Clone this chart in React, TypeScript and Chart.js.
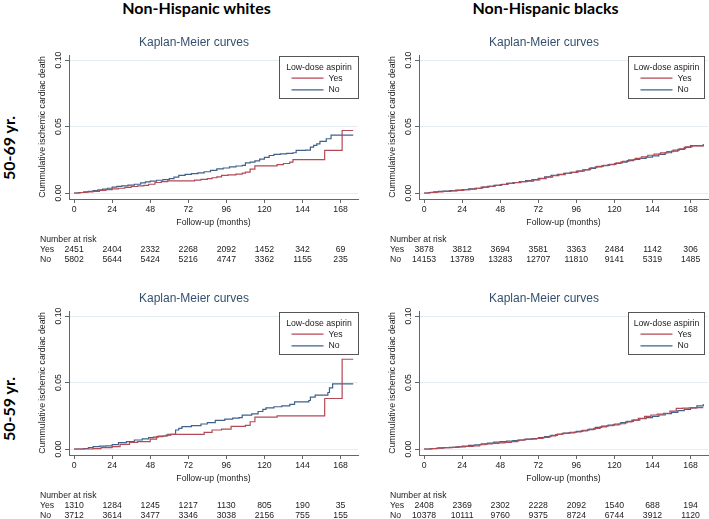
import React, { useEffect, useRef } from 'react';
import { Chart, registerables } from 'chart.js';

Chart.register(...registerables);

// ---------- text ----------
const colHeaders = ['Non-Hispanic whites', 'Non-Hispanic blacks'];
const rowHeaders = ['50-69 yr.', '50-59 yr.'];
const panelTitle = 'Kaplan-Meier curves';
const legendTitle = 'Low-dose aspirin';
const seriesLabels = ['Yes', 'No'];
const xTitle = 'Follow-up (months)';
const yTitle = 'Cummulative ischemic cardiac death';
const riskTitle = 'Number at risk';

// ---------- ticks ----------
const xTicks = [0, 24, 48, 72, 96, 120, 144, 168];
const yTicks = [0, 0.05, 0.1];

// ---------- Non-Hispanic whites, 50-69 yr. ----------
const w69YesT = [0, 4, 8, 12, 16, 20, 24, 28, 32, 36, 40, 44, 47, 51, 55, 59, 76, 80, 84, 87, 90, 93, 97, 102, 106, 108, 111, 114, 128, 132, 136, 138, 158, 169, 176];
const w69YesV = [0, 0.0004, 0.0008, 0.0013, 0.0019, 0.0025, 0.0031, 0.0036, 0.0043, 0.0049, 0.0053, 0.0058, 0.0066, 0.0079, 0.0086, 0.0092, 0.0097, 0.0102, 0.0108, 0.0115, 0.0122, 0.0132, 0.0137, 0.0142, 0.015, 0.0157, 0.018, 0.0204, 0.0214, 0.0222, 0.0232, 0.0251, 0.032, 0.047, 0.047];
const w69NoT = [0, 3, 6, 9, 12, 15, 18, 21, 24, 27, 30, 34, 38, 42, 45, 48, 52, 56, 60, 63, 66, 70, 74, 78, 82, 86, 90, 94, 98, 102, 106, 108, 111, 114, 117, 120, 123, 126, 130, 134, 138, 140, 146, 149, 151, 153, 155, 159, 162, 176];
const w69NoV = [0, 0.0004, 0.0008, 0.0012, 0.0018, 0.0024, 0.003, 0.0036, 0.0045, 0.005, 0.0054, 0.006, 0.0066, 0.0076, 0.0084, 0.009, 0.0096, 0.0101, 0.0108, 0.012, 0.0132, 0.014, 0.0146, 0.0152, 0.016, 0.0171, 0.0182, 0.0188, 0.0196, 0.0203, 0.0208, 0.0226, 0.0232, 0.0242, 0.0255, 0.0268, 0.0282, 0.029, 0.0295, 0.0298, 0.0303, 0.032, 0.0322, 0.0345, 0.0358, 0.037, 0.0388, 0.0408, 0.0436, 0.0436];
const w69RiskYes = [2451, 2404, 2332, 2268, 2092, 1452, 342, 69];
const w69RiskNo = [5802, 5644, 5424, 5216, 4747, 3362, 1155, 235];

// ---------- Non-Hispanic blacks, 50-69 yr. ----------
const b69YesT = [0, 4, 8, 12, 17, 21, 25, 29, 33, 37, 41, 45, 49, 53, 57, 61, 65, 69, 73, 77, 81, 85, 89, 93, 97, 101, 105, 109, 113, 117, 121, 125, 129, 133, 137, 141, 145, 149, 153, 157, 161, 165, 169, 176];
const b69YesV = [0, 0.0005, 0.0009, 0.0012, 0.0016, 0.002, 0.0026, 0.003, 0.0036, 0.0044, 0.0051, 0.0058, 0.0065, 0.0072, 0.0078, 0.0085, 0.009, 0.0098, 0.0108, 0.012, 0.0131, 0.0139, 0.0147, 0.0155, 0.0164, 0.0176, 0.019, 0.0201, 0.0208, 0.0216, 0.0226, 0.0238, 0.025, 0.026, 0.0272, 0.0284, 0.0293, 0.0302, 0.0312, 0.0322, 0.0333, 0.0347, 0.0355, 0.0358];
const b69NoT = [0, 3, 6, 9, 12, 16, 20, 24, 28, 32, 36, 40, 44, 48, 52, 56, 60, 64, 68, 72, 76, 80, 84, 88, 92, 96, 100, 104, 108, 112, 116, 120, 124, 128, 132, 136, 140, 144, 148, 152, 156, 160, 164, 168, 176];
const b69NoV = [0, 0.0004, 0.0008, 0.0012, 0.0015, 0.0018, 0.0022, 0.0026, 0.0031, 0.0036, 0.0044, 0.005, 0.0058, 0.0064, 0.0072, 0.0079, 0.0086, 0.0093, 0.0101, 0.011, 0.0122, 0.0132, 0.014, 0.0148, 0.0156, 0.0164, 0.0174, 0.0186, 0.0196, 0.0205, 0.0213, 0.0222, 0.0233, 0.0243, 0.0252, 0.0261, 0.027, 0.0279, 0.0291, 0.0303, 0.0315, 0.0328, 0.0343, 0.0356, 0.0368];
const b69RiskYes = [3878, 3812, 3694, 3581, 3363, 2484, 1142, 306];
const b69RiskNo = [14153, 13789, 13283, 12707, 11810, 9141, 5319, 1485];

// ---------- Non-Hispanic whites, 50-59 yr. ----------
const w59YesT = [0, 12, 17, 24, 29, 35, 40, 48, 52, 56, 59, 82, 87, 93, 99, 108, 111, 114, 128, 158, 169, 176];
const w59YesV = [0, 0.0003, 0.001, 0.0018, 0.0035, 0.005, 0.0055, 0.0075, 0.0093, 0.0098, 0.011, 0.0125, 0.0143, 0.015, 0.017, 0.0178, 0.0205, 0.024, 0.025, 0.038, 0.0675, 0.0675];
const w59NoT = [0, 6, 9, 12, 16, 20, 24, 28, 33, 38, 43, 47, 50, 53, 58, 61, 64, 66, 68, 74, 80, 84, 89, 95, 100, 104, 106, 112, 116, 119, 121, 126, 131, 136, 139, 148, 149, 152, 160, 161, 163, 176];
const w59NoV = [0, 0.0004, 0.001, 0.0018, 0.0021, 0.0024, 0.0033, 0.0048, 0.0055, 0.0068, 0.0076, 0.0085, 0.009, 0.0098, 0.0104, 0.011, 0.0143, 0.0155, 0.0168, 0.0176, 0.0188, 0.0198, 0.0215, 0.0225, 0.0232, 0.0236, 0.0255, 0.0265, 0.0282, 0.0298, 0.031, 0.0318, 0.0325, 0.0335, 0.0355, 0.0365, 0.039, 0.0405, 0.0425, 0.046, 0.049, 0.049];
const w59RiskYes = [1310, 1284, 1245, 1217, 1130, 805, 190, 35];
const w59RiskNo = [3712, 3614, 3477, 3346, 3038, 2156, 755, 155];

// ---------- Non-Hispanic blacks, 50-59 yr. ----------
const b59YesT = [0, 5, 9, 13, 18, 22, 26, 31, 35, 39, 43, 47, 51, 55, 59, 63, 67, 71, 75, 79, 83, 87, 91, 95, 99, 103, 107, 111, 115, 119, 123, 127, 131, 135, 139, 143, 147, 151, 155, 159, 163, 167, 171, 176];
const b59YesV = [0, 0.0004, 0.0008, 0.0011, 0.0013, 0.0016, 0.0019, 0.0024, 0.0032, 0.0039, 0.0043, 0.0046, 0.0049, 0.0056, 0.0067, 0.0072, 0.0075, 0.0079, 0.0087, 0.0098, 0.0109, 0.0117, 0.0122, 0.0128, 0.0136, 0.0146, 0.0155, 0.0166, 0.0175, 0.0182, 0.019, 0.0204, 0.0218, 0.0231, 0.0245, 0.0256, 0.0262, 0.0268, 0.0285, 0.0305, 0.0307, 0.031, 0.0312, 0.0312];
const b59NoT = [0, 4, 8, 12, 16, 20, 24, 28, 32, 36, 40, 44, 48, 52, 56, 60, 64, 68, 72, 76, 80, 84, 88, 92, 96, 100, 104, 108, 112, 116, 120, 124, 128, 132, 136, 140, 144, 148, 152, 156, 160, 164, 168, 172, 176];
const b59NoV = [0, 0.0003, 0.0007, 0.001, 0.0013, 0.0017, 0.0022, 0.0027, 0.0032, 0.0039, 0.0045, 0.0052, 0.0056, 0.006, 0.0063, 0.0068, 0.0074, 0.0079, 0.0085, 0.0093, 0.0103, 0.0113, 0.012, 0.0126, 0.0133, 0.0141, 0.015, 0.0163, 0.0172, 0.018, 0.0188, 0.0198, 0.0208, 0.0218, 0.0228, 0.0236, 0.0245, 0.0256, 0.0266, 0.0276, 0.0288, 0.0298, 0.031, 0.0325, 0.0338];
const b59RiskYes = [2408, 2369, 2302, 2228, 2092, 1540, 688, 194];
const b59RiskNo = [10378, 10111, 9760, 9375, 8724, 6744, 3912, 1120];

// ---------- style ----------
const RED = '#b34a55';
const BLUE = '#40618a';
const SANS = '"Liberation Sans", Arial, sans-serif';
const SMALL = 8.7;
const CANVAS_W = 330;
const CANVAS_H = 240;
const Y_AXIS_W = 39;
const TITLE_H = 25;
const X_AXIS_H = 71;

type PanelProps = {
  plotLeft: number;
  plotTop: number;
  yesT: number[];
  yesV: number[];
  noT: number[];
  noV: number[];
  riskYes: number[];
  riskNo: number[];
  legendDx: number;
  legendW: number;
};

function KMPanel(p: PanelProps) {
  const ref = useRef<HTMLCanvasElement>(null);

  useEffect(() => {
    if (!ref.current) return;
    const pts = (t: number[], v: number[]) => t.map((x, i) => ({ x, y: v[i] }));

    const extras = {
      id: 'kmExtras',
      afterDraw(chart: any) {
        const ctx = chart.ctx as CanvasRenderingContext2D;
        const ca = chart.chartArea;
        const xs = chart.scales.x;
        ctx.save();
        // legend
        const bx = Math.round(ca.left + p.legendDx) + 0.5;
        const by = Math.round(ca.top + 1) + 0.5;
        const bw = p.legendW;
        const bh = 42;
        ctx.fillStyle = '#ffffff';
        ctx.fillRect(bx, by, bw, bh);
        ctx.strokeStyle = '#555555';
        ctx.lineWidth = 1;
        ctx.strokeRect(bx, by, bw, bh);
        ctx.font = `${SMALL}px ${SANS}`;
        ctx.fillStyle = '#222222';
        ctx.textBaseline = 'middle';
        ctx.textAlign = 'center';
        ctx.fillText(legendTitle, bx + bw / 2, by + 10.7);
        const ds = chart.data.datasets;
        const rowsY = [by + 21.7, by + 33.3];
        ds.forEach((d: any, i: number) => {
          ctx.strokeStyle = d.borderColor;
          ctx.lineWidth = 1.2;
          ctx.beginPath();
          ctx.moveTo(bx + 12, rowsY[i]);
          ctx.lineTo(bx + 44, rowsY[i]);
          ctx.stroke();
          ctx.textAlign = 'left';
          ctx.fillStyle = '#222222';
          ctx.fillText(d.label, bx + 49, rowsY[i]);
        });
        // number at risk
        const lx = ca.left - 29;
        ctx.textAlign = 'left';
        ctx.fillText(riskTitle, lx, ca.top + 184.5);
        ctx.fillText(seriesLabels[0], lx, ca.top + 194.5);
        ctx.fillText(seriesLabels[1], lx, ca.top + 205);
        ctx.textAlign = 'center';
        xTicks.forEach((t, i) => {
          const px = xs.getPixelForValue(t);
          ctx.fillText(String(p.riskYes[i]), px, ca.top + 194.5);
          ctx.fillText(String(p.riskNo[i]), px, ca.top + 205);
        });
        ctx.restore();
      },
    };

    const chart = new Chart(ref.current, {
      type: 'line',
      data: {
        datasets: [
          {
            label: seriesLabels[0],
            data: pts(p.yesT, p.yesV),
            borderColor: RED,
            backgroundColor: RED,
            borderWidth: 1.2,
            pointRadius: 0,
            stepped: 'before',
            fill: false,
          },
          {
            label: seriesLabels[1],
            data: pts(p.noT, p.noV),
            borderColor: BLUE,
            backgroundColor: BLUE,
            borderWidth: 1.2,
            pointRadius: 0,
            stepped: 'before',
            fill: false,
          },
        ],
      },
      options: {
        animation: false,
        responsive: false,
        maintainAspectRatio: false,
        events: [],
        layout: { padding: { left: 0, right: 2, top: 0, bottom: 0 } },
        plugins: {
          legend: { display: false },
          tooltip: { enabled: false },
          title: {
            display: true,
            text: panelTitle,
            color: '#34506f',
            font: { size: 12, family: SANS, weight: 'normal' },
            padding: { top: 5.8, bottom: 4.8 },
          },
        },
        scales: {
          x: {
            type: 'linear',
            min: -3.2,
            max: 179,
            afterBuildTicks: (s: any) => {
              s.ticks = xTicks.map((v) => ({ value: v }));
            },
            afterFit: (s: any) => {
              s.height = X_AXIS_H;
            },
            ticks: {
              color: '#222222',
              font: { size: SMALL, family: SANS },
              padding: 1,
              maxRotation: 0,
              minRotation: 0,
              autoSkip: false,
            },
            grid: { drawOnChartArea: false, drawTicks: true, tickLength: 4, tickColor: '#666666' },
            border: { display: true, color: '#666666', width: 1 },
            title: {
              display: true,
              text: xTitle,
              color: '#222222',
              font: { size: SMALL, family: SANS },
              padding: { top: 0, bottom: 41.8 },
            },
          },
          y: {
            type: 'linear',
            min: -0.0045,
            max: 0.1038,
            afterBuildTicks: (s: any) => {
              s.ticks = yTicks.map((v) => ({ value: v }));
            },
            afterFit: (s: any) => {
              s.width = Y_AXIS_W;
            },
            ticks: {
              color: '#222222',
              font: { size: SMALL, family: SANS },
              padding: -2,
              minRotation: 90,
              maxRotation: 90,
              crossAlign: 'center',
              autoSkip: false,
              callback: (v: any) => Number(v).toFixed(2),
            },
            grid: { drawOnChartArea: true, color: '#e2eef2', drawTicks: true, tickLength: 4, tickColor: '#666666' },
            border: { display: true, color: '#666666', width: 1 },
            title: {
              display: true,
              text: yTitle,
              color: '#222222',
              font: { size: SMALL, family: SANS },
              padding: { top: 7.8, bottom: 0 },
            },
          },
        },
      } as any,
      plugins: [extras],
    });
    return () => chart.destroy();
  }, []);

  return (
    <canvas
      ref={ref}
      width={CANVAS_W}
      height={CANVAS_H}
      style={{
        position: 'absolute',
        left: p.plotLeft - Y_AXIS_W,
        top: p.plotTop - TITLE_H,
        width: CANVAS_W,
        height: CANVAS_H,
      }}
    />
  );
}

const headerStyle: React.CSSProperties = {
  position: 'absolute',
  fontFamily: 'Lato, "Noto Sans", sans-serif',
  fontWeight: 700,
  fontSize: 16,
  lineHeight: '16px',
  color: '#000',
  whiteSpace: 'nowrap',
};

export default function App() {
  return (
    <div
      style={{
        position: 'fixed',
        left: 0,
        top: 0,
        width: 709,
        height: 519,
        overflow: 'hidden',
        background: '#ffffff',
      }}
    >
      <div style={{ ...headerStyle, left: 196.5, top: 0, transform: 'translateX(-50%)' }}>{colHeaders[0]}</div>
      <div style={{ ...headerStyle, left: 545.5, top: 0, transform: 'translateX(-50%)' }}>{colHeaders[1]}</div>
      <div style={{ ...headerStyle, left: 9, top: 147.5, transform: 'translate(-50%, -50%) rotate(-90deg)' }}>{rowHeaders[0]}</div>
      <div style={{ ...headerStyle, left: 9, top: 408.5, transform: 'translate(-50%, -50%) rotate(-90deg)' }}>{rowHeaders[1]}</div>

      <KMPanel plotLeft={69} plotTop={55} yesT={w69YesT} yesV={w69YesV} noT={w69NoT} noV={w69NoV} riskYes={w69RiskYes} riskNo={w69RiskNo} legendDx={210} legendW={79} />
      <KMPanel plotLeft={419} plotTop={55} yesT={b69YesT} yesV={b69YesV} noT={b69NoT} noV={b69NoV} riskYes={b69RiskYes} riskNo={b69RiskNo} legendDx={209} legendW={76} />
      <KMPanel plotLeft={69} plotTop={311} yesT={w59YesT} yesV={w59YesV} noT={w59NoT} noV={w59NoV} riskYes={w59RiskYes} riskNo={w59RiskNo} legendDx={210} legendW={79} />
      <KMPanel plotLeft={419} plotTop={311} yesT={b59YesT} yesV={b59YesV} noT={b59NoT} noV={b59NoV} riskYes={b59RiskYes} riskNo={b59RiskNo} legendDx={209} legendW={76} />
    </div>
  );
}
